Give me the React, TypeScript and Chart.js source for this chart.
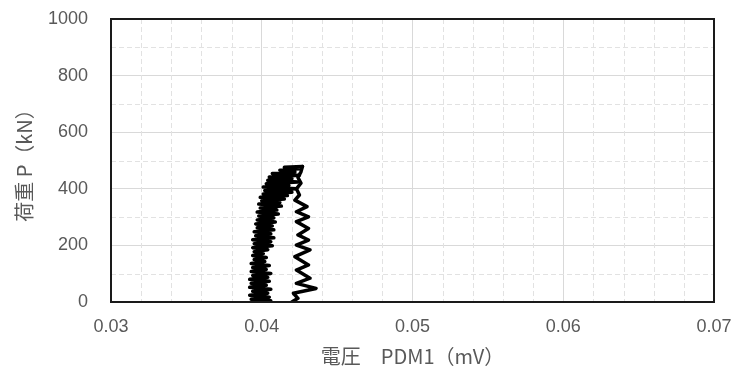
import React, { useEffect, useRef } from "react";
import { Chart, registerables } from "chart.js";

Chart.register(...registerables);

// Loading branch: voltage (mV) and load (kN)
const loadX = [
  0.0398, 0.0406, 0.0393, 0.0405, 0.0392, 0.0404, 0.0394, 0.0406, 0.0392, 0.0403,
  0.0393, 0.0405, 0.0392, 0.0404, 0.0394, 0.0406, 0.0393, 0.0403, 0.0394, 0.0405,
  0.0393, 0.0402, 0.0395, 0.0403, 0.0394, 0.0401, 0.0395, 0.0404, 0.0394, 0.0407,
  0.0395, 0.0406, 0.0394, 0.0408, 0.0396, 0.0406, 0.0395, 0.0408, 0.0397, 0.0407,
  0.0396, 0.0409, 0.0397, 0.0408, 0.0398, 0.0411, 0.0397, 0.041, 0.0399, 0.0413,
  0.0398, 0.0412, 0.04, 0.0415, 0.0399, 0.0417, 0.0401, 0.042, 0.0402, 0.0423,
  0.0401, 0.0418, 0.0403, 0.0424, 0.0404, 0.042, 0.0405, 0.0425, 0.0407, 0.0422,
  0.0412, 0.0425, 0.0415, 0.0427,
];
const loadP = [
  0, 4, 10, 17, 24, 31, 38, 45, 52, 59,
  66, 73, 80, 87, 94, 101, 108, 115, 122, 129,
  136, 143, 150, 157, 164, 171, 178, 185, 192, 199,
  206, 213, 220, 227, 234, 241, 248, 255, 262, 269,
  276, 283, 290, 297, 304, 311, 318, 325, 332, 339,
  346, 352, 358, 364, 370, 376, 382, 388, 394, 400,
  406, 412, 418, 424, 430, 436, 442, 448, 454, 460,
  466, 471, 476, 479,
];

// Unloading branch
const unloadX = [
  0.0427, 0.0426, 0.0424, 0.0426, 0.0423, 0.0425, 0.0422, 0.043, 0.0423, 0.0431,
  0.0423, 0.0431, 0.0424, 0.0431, 0.0423, 0.0432, 0.0422, 0.0431, 0.0423, 0.0432,
  0.0423, 0.0436, 0.0421, 0.0424, 0.042,
];
const unloadP = [
  479, 460, 440, 420, 400, 378, 360, 337, 319, 301,
  284, 260, 237, 219, 201, 184, 160, 131, 113, 84,
  66, 48, 31, 13, 0,
];

// Axis ticks
const xMajorTicks = [0.03, 0.04, 0.05, 0.06, 0.07];
const xMinorTicks = [
  0.032, 0.034, 0.036, 0.038, 0.042, 0.044, 0.046, 0.048,
  0.052, 0.054, 0.056, 0.058, 0.062, 0.064, 0.066, 0.068,
];
const yMajorTicks = [0, 200, 400, 600, 800, 1000];
const yMinorTicks = [100, 300, 500, 700, 900];

const xTitle = "電圧　PDM1（mV）";
const yTitle = "荷重 P（kN）";

const TICK_FONT = { family: "'Liberation Sans', Arial, sans-serif", size: 18 };
const TITLE_FONT = { family: "'Noto Sans CJK JP', sans-serif", size: 20 };
const TEXT_COLOR = "#595959";

const gridPlugin = {
  id: "minorGridAndBox",
  beforeDatasetsDraw(chart: any) {
    const { ctx, chartArea: a, scales } = chart;
    const x = scales.x;
    const y = scales.y;
    ctx.save();
    ctx.strokeStyle = "#e2e2e2";
    ctx.lineWidth = 1;
    ctx.setLineDash([5, 3]);
    xMinorTicks.forEach((v) => {
      const px = Math.round(x.getPixelForValue(v)) + 0.5;
      ctx.beginPath();
      ctx.moveTo(px, a.top);
      ctx.lineTo(px, a.bottom);
      ctx.stroke();
    });
    yMinorTicks.forEach((v) => {
      const py = Math.round(y.getPixelForValue(v)) + 0.5;
      ctx.beginPath();
      ctx.moveTo(a.left, py);
      ctx.lineTo(a.right, py);
      ctx.stroke();
    });
    ctx.restore();
  },
  afterDraw(chart: any) {
    const { ctx, chartArea: a } = chart;
    ctx.save();
    ctx.strokeStyle = "#1a1a1a";
    ctx.lineWidth = 2;
    ctx.setLineDash([]);
    ctx.strokeRect(a.left, a.top, a.right - a.left, a.bottom - a.top);
    ctx.restore();
  },
};

export default function App() {
  const ref = useRef<HTMLCanvasElement | null>(null);

  useEffect(() => {
    if (!ref.current) return;
    const loadData = loadX.map((v, i) => ({ x: v, y: loadP[i] }));
    const unloadData = unloadX.map((v, i) => ({ x: v, y: unloadP[i] }));
    const lineStyle = {
      showLine: true,
      borderColor: "#000000",
      backgroundColor: "#000000",
      borderWidth: 3.5,
      borderJoinStyle: "round" as const,
      borderCapStyle: "round" as const,
      pointRadius: 0,
      tension: 0,
    };
    const chart = new Chart(ref.current, {
      type: "scatter",
      data: {
        datasets: [
          { data: loadData, ...lineStyle },
          { data: unloadData, ...lineStyle },
        ],
      },
      options: {
        animation: false,
        responsive: false,
        maintainAspectRatio: false,
        layout: { padding: { left: 0, top: 19, right: 21, bottom: 0 } },
        plugins: {
          legend: { display: false },
          tooltip: { enabled: false },
        },
        scales: {
          x: {
            type: "linear",
            min: 0.03,
            max: 0.07,
            afterFit(scale: any) {
              scale.height = 67;
              scale.paddingLeft = 0;
              scale.paddingRight = 0;
            },
            afterBuildTicks(scale: any) {
              scale.ticks = xMajorTicks.map((v) => ({ value: v }));
            },
            ticks: {
              color: TEXT_COLOR,
              font: TICK_FONT,
              padding: 14,
              maxRotation: 0,
              callback: (v: any) => String(Number(v).toFixed(2)),
            },
            grid: { color: "#d9d9d9", lineWidth: 1, drawTicks: false },
            border: { display: false },
            title: {
              display: true,
              text: xTitle,
              color: TEXT_COLOR,
              font: TITLE_FONT,
              padding: { top: 0, bottom: 1 },
            },
          },
          y: {
            type: "linear",
            min: 0,
            max: 1000,
            afterFit(scale: any) {
              scale.width = 111;
              scale.paddingTop = 0;
              scale.paddingBottom = 0;
            },
            afterBuildTicks(scale: any) {
              scale.ticks = yMajorTicks.map((v) => ({ value: v }));
            },
            ticks: {
              color: TEXT_COLOR,
              font: TICK_FONT,
              padding: 23,
              callback: (v: any) => String(v),
            },
            grid: { color: "#d9d9d9", lineWidth: 1, drawTicks: false },
            border: { display: false },
            title: {
              display: true,
              text: yTitle,
              color: TEXT_COLOR,
              font: TITLE_FONT,
              padding: { top: 12, bottom: 0 },
            },
          },
        },
      },
      plugins: [gridPlugin],
    });
    return () => chart.destroy();
  }, []);

  return (
    <div style={{ position: "absolute", left: 0, top: 0, width: 735, height: 369, background: "#fff" }}>
      <canvas ref={ref} width={735} height={369} />
    </div>
  );
}
